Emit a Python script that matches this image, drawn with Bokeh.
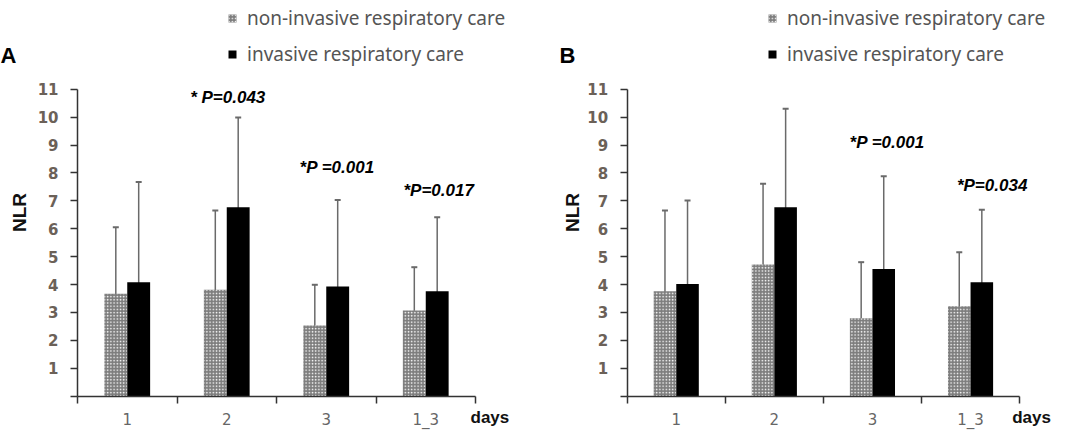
import math
from bokeh.plotting import figure
from bokeh.models import (Range1d, FixedTicker, Whisker, ColumnDataSource, Label,
                          Legend, LegendItem, TeeHead)
from bokeh.layouts import row
from bokeh.embed import file_html
from bokeh.resources import INLINE

# ---------------- data ----------------
days = ["1", "2", "3", "1_3"]
series = ["non-invasive respiratory care", "invasive respiratory care"]
y_ticks = list(range(0, 12))

# Panel A
a_noninv = [3.67, 3.81, 2.53, 3.07]
a_noninv_lo = [1.34, 1.04, 1.12, 1.57]
a_noninv_hi = [6.05, 6.65, 3.99, 4.62]
a_inv = [4.08, 6.77, 3.93, 3.76]
a_inv_lo = [0.46, 3.69, 0.80, 1.16]
a_inv_hi = [7.67, 9.99, 7.03, 6.41]
a_pvals = ["* P=0.043", "*P =0.001", "*P=0.017"]

# Panel B
b_noninv = [3.76, 4.72, 2.79, 3.22]
b_noninv_lo = [0.80, 1.25, 0.78, 0.62]
b_noninv_hi = [6.65, 7.61, 4.80, 5.16]
b_inv = [4.02, 6.77, 4.56, 4.08]
b_inv_lo = [1.04, 3.31, 1.30, 1.48]
b_inv_hi = [7.01, 10.30, 7.88, 6.68]
b_pvals = ["*P =0.001", "*P=0.034"]

# annotation placement (data units)
a_ppos = [(1.51, 10.70), (2.61, 8.20), (3.63, 7.37)]
b_ppos = [(2.65, 9.10), (3.72, 7.55)]

W, H = 533, 430
BAR_W = 0.23
GREY = "#7d7d7d"
ERR = "#6a6a6a"
AX = "#333333"
TICK_COL = "#6b6158"


def panel(letter, noninv, noninv_lo, noninv_hi, inv, inv_lo, inv_hi, pvals, ppos,
          ox, cat_px, legend_px, letter_px, nlr_px, days_px):
    oy, unit_y = 395.6, 27.9
    # frame covers the whole figure; axes are pinned at the data origin
    x_range = Range1d(-ox / cat_px, (W - ox) / cat_px)
    y_range = Range1d(-(H - oy) / unit_y, oy / unit_y)
    dx = lambda px: (px - ox) / cat_px
    dy = lambda py: (oy - py) / unit_y

    p = figure(width=W, height=H, output_backend="svg", toolbar_location=None,
               x_range=x_range, y_range=y_range, min_border=0)
    p.outline_line_color = None
    p.xgrid.visible = False
    p.ygrid.visible = False
    p.background_fill_color = "white"
    p.border_fill_color = "white"

    centers = [i + 0.5 for i in range(len(days))]
    xn = [c - BAR_W / 2 for c in centers]
    xi = [c + BAR_W / 2 for c in centers]

    src_n = ColumnDataSource(dict(x=xn, top=noninv, lo=noninv_lo, hi=noninv_hi))
    src_i = ColumnDataSource(dict(x=xi, top=inv, lo=inv_lo, hi=inv_hi))

    rn = p.vbar(x="x", top="top", width=BAR_W, source=src_n, fill_color=GREY,
                line_color=None, hatch_pattern="dot", hatch_color="white",
                hatch_scale=3.2, hatch_weight=1.4)
    ri = p.vbar(x="x", top="top", width=BAR_W, source=src_i, fill_color="black",
                line_color=None)

    for src in (src_n, src_i):
        w = Whisker(base="x", upper="hi", lower="lo", source=src,
                    line_color=ERR, line_width=1.5,
                    upper_head=TeeHead(size=6, line_color=ERR, line_width=2),
                    lower_head=TeeHead(size=6, line_color=ERR, line_width=2))
        p.add_layout(w)

    # y axis
    ya = p.yaxis[0]
    ya.fixed_location = 0
    ya.bounds = (0, 11)
    ya.ticker = FixedTicker(ticks=y_ticks)
    ya.major_label_overrides = {0: ""}
    ya.major_tick_out = 7
    ya.major_tick_in = 0
    ya.minor_tick_out = 0
    ya.minor_tick_in = 0
    ya.major_label_standoff = 12
    ya.major_label_text_font = "DejaVu Sans"
    ya.major_label_text_font_style = "bold"
    ya.major_label_text_font_size = "15px"
    ya.major_label_text_color = TICK_COL
    ya.axis_line_color = AX
    ya.axis_line_width = 1.5
    ya.major_tick_line_color = AX
    ya.major_tick_line_width = 1.5

    # x axis
    xa = p.xaxis[0]
    xa.fixed_location = 0
    xa.bounds = (0, 4)
    xa.ticker = FixedTicker(ticks=centers, minor_ticks=[0, 1, 2, 3, 4])
    xa.major_label_overrides = {c: d for c, d in zip(centers, days)}
    xa.major_tick_out = 0
    xa.major_tick_in = 0
    xa.minor_tick_out = 7
    xa.minor_tick_in = 0
    xa.minor_tick_line_color = AX
    xa.minor_tick_line_width = 1.5
    xa.major_label_standoff = 8
    xa.major_label_text_font = "DejaVu Sans"
    xa.major_label_text_font_size = "15px"
    xa.major_label_text_color = "#666666"
    xa.axis_line_color = AX
    xa.axis_line_width = 1.5

    # y axis title
    p.add_layout(Label(x=dx(nlr_px), y=dy(212), text="NLR", angle=math.pi / 2,
                       text_align="center", text_baseline="middle",
                       text_font="Liberation Sans", text_font_style="bold",
                       text_font_size="19px", text_color="#111111"))

    # p-value annotations
    for t, (x, y) in zip(pvals, ppos):
        p.add_layout(Label(x=x, y=y, text=t, text_align="center", text_baseline="middle",
                           text_font="Liberation Sans", text_font_style="bold italic",
                           text_font_size="17px", text_color="black"))

    # "days"
    p.add_layout(Label(x=dx(days_px), y=dy(416.7), text="days", text_align="left",
                       text_baseline="middle", text_font="Liberation Sans",
                       text_font_style="bold", text_font_size="17px", text_color="#111111"))
    # panel letter
    p.add_layout(Label(x=dx(letter_px), y=dy(55), text=letter, text_align="left",
                       text_baseline="middle", text_font="Liberation Sans",
                       text_font_style="bold", text_font_size="22px", text_color="black"))

    leg = Legend(items=[LegendItem(label=series[0], renderers=[rn]),
                        LegendItem(label=series[1], renderers=[ri])],
                 location=(legend_px, H - 67), orientation="vertical",
                 padding=0, margin=0, spacing=10, glyph_width=10, glyph_height=10,
                 label_height=26, label_standoff=10,
                 label_text_font="Noto Sans", label_text_font_size="19px",
                 label_text_color="#555555",
                 background_fill_alpha=0, border_line_alpha=0)
    p.add_layout(leg)
    return p


pA = panel("A", a_noninv, a_noninv_lo, a_noninv_hi, a_inv, a_inv_lo, a_inv_hi,
           a_pvals, a_ppos, ox=77, cat_px=99.5, legend_px=227, letter_px=0,
           nlr_px=19, days_px=470)
pB = panel("B", b_noninv, b_noninv_lo, b_noninv_hi, b_inv, b_inv_lo, b_inv_hi,
           b_pvals, b_ppos, ox=93.7, cat_px=98.1, legend_px=234, letter_px=26,
           nlr_px=38.7, days_px=478.7)

layout = row(pA, pB, spacing=0)
open("out.html", "w").write(file_html(layout, INLINE))
